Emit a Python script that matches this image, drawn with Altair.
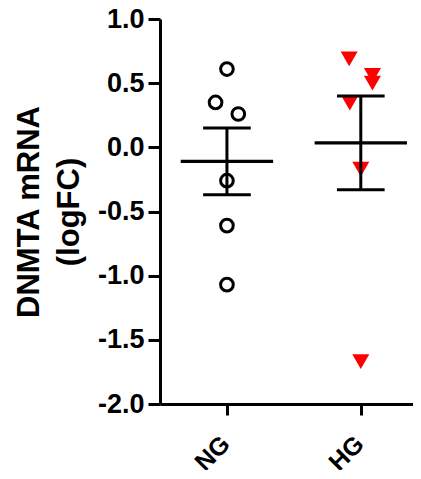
import altair as alt
import pandas as pd

# ---- data ----
groups = ["NG", "HG"]
group_pos = [1, 2]
ng_values = [0.61, 0.35, 0.26, -0.26, -0.61, -1.07]
ng_offsets = [0.0, -0.085, 0.085, 0.0, 0.0, 0.0]
hg_values = [0.69, 0.56, 0.50, 0.345, -0.17, -1.67]
hg_offsets = [-0.087, 0.087, 0.087, -0.082, 0.0, 0.0]
means = [-0.11, 0.035]
sems = [0.26, 0.365]
y_ticks = [-2.0, -1.5, -1.0, -0.5, 0.0, 0.5, 1.0]

MEAN_HALF = 0.345
CAP_HALF = 0.178

ng_df = pd.DataFrame({"x": [1 + o for o in ng_offsets], "value": ng_values})
hg_df = pd.DataFrame({"x": [2 + o for o in hg_offsets], "value": hg_values})
summ = pd.DataFrame({"group": groups, "pos": group_pos, "mean": means, "sem": sems})
summ["lo"] = summ["mean"] - summ["sem"]
summ["hi"] = summ["mean"] + summ["sem"]
summ["m1"] = summ["pos"] - MEAN_HALF
summ["m2"] = summ["pos"] + MEAN_HALF
summ["c1"] = summ["pos"] - CAP_HALF
summ["c2"] = summ["pos"] + CAP_HALF

x_scale = alt.Scale(domain=[0.5, 2.39], nice=False, zero=False)
y_scale = alt.Scale(domain=[-2.0, 1.0], nice=False, zero=False)

x_axis = alt.Axis(
    values=group_pos,
    labelExpr="datum.value == 1 ? 'NG' : (datum.value == 2 ? 'HG' : '')",
    title=None, grid=False,
    domainColor="black", domainWidth=3,
    tickColor="black", tickWidth=3, tickSize=11,
    labelColor="black", labelFont="Liberation Sans", labelFontWeight="bold",
    labelFontSize=25, labelAngle=315, labelPadding=16, labelOffset=-10,
    labelFlush=False, labelOverlap=False,
)
y_axis = alt.Axis(
    values=y_ticks,
    labelExpr="datum.value < 0 ? '-' + format(abs(datum.value), '.1f') : format(datum.value, '.1f')",
    title=["DNMTA mRNA", "(logFC)"], grid=False,
    domainColor="black", domainWidth=3,
    tickColor="black", tickWidth=3, tickSize=12,
    labelColor="black", labelFont="Liberation Sans", labelFontWeight="bold",
    labelFontSize=27, labelPadding=4, labelFlush=False, labelOverlap=False,
    titleFont="Liberation Sans", titleFontWeight="bold",
    titleFontSize=31, titleLineHeight=40, titleColor="black",
    titleAngle=270, titleAlign="center", titleBaseline="middle",
    titleX=-131, titleY=192.5,
)

X = lambda f: alt.X(f, scale=x_scale, axis=x_axis)
Y = lambda f: alt.Y(f, scale=y_scale, axis=y_axis)

circles = alt.Chart(ng_df).mark_point(
    shape="circle", filled=False, color="black", strokeWidth=3, size=160, opacity=1
).encode(x=X("x:Q"), y=Y("value:Q"))

triangles = alt.Chart(hg_df).mark_point(
    shape="triangle-down", filled=True, color="#ff0000", size=290, opacity=1, strokeWidth=0
).encode(x=X("x:Q"), y=Y("value:Q"))

mean_lines = alt.Chart(summ).mark_rule(color="black", strokeWidth=3.3).encode(
    x=X("m1:Q"), x2="m2:Q", y=Y("mean:Q"))
vlines = alt.Chart(summ).mark_rule(color="black", strokeWidth=3).encode(
    x=X("pos:Q"), y=Y("lo:Q"), y2="hi:Q")
caps_hi = alt.Chart(summ).mark_rule(color="black", strokeWidth=3).encode(
    x=X("c1:Q"), x2="c2:Q", y=Y("hi:Q"))
caps_lo = alt.Chart(summ).mark_rule(color="black", strokeWidth=3).encode(
    x=X("c1:Q"), x2="c2:Q", y=Y("lo:Q"))

chart = alt.layer(circles, triangles, mean_lines, vlines, caps_hi, caps_lo).properties(
    width=253, height=385,
    autosize=alt.AutoSizeParams(type="none"),
    padding={"left": 152, "top": 11, "right": 0, "bottom": 66},
    background="white",
).configure_view(stroke=None)

chart.save("out.html", embed_options={"renderer": "svg", "actions": False})
